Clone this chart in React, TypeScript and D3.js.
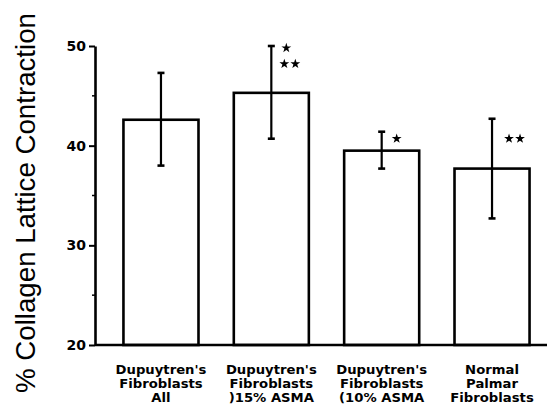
import { useEffect, useRef } from 'react';
import * as d3 from 'd3';

// groups shown along the x axis, one label line per entry
const categories = [
  ["Dupuytren's", 'Fibroblasts', 'All'],
  ["Dupuytren's", 'Fibroblasts', ')15% ASMA'],
  ["Dupuytren's", 'Fibroblasts', '(10% ASMA'],
  ['Normal', 'Palmar', 'Fibroblasts'],
];
const means = [42.6, 45.3, 39.5, 37.7];
const errHigh = [47.3, 50.0, 41.4, 42.7];
const errLow = [38.0, 40.7, 37.7, 32.7];
const yTicks = [20, 30, 40, 50];
const yMinorTicks = [25, 35, 45];
// significance marks: bar index, number of stars, level (data units)
const marks = [
  { bar: 1, stars: 1, level: 49.8 },
  { bar: 1, stars: 2, level: 48.2 },
  { bar: 2, stars: 1, level: 40.7 },
  { bar: 3, stars: 2, level: 40.7 },
];
const yTitle = '% Collagen Lattice Contraction';

const W = 547;
const H = 407;

export default function App() {
  const svgRef = useRef<SVGSVGElement>(null);

  useEffect(() => {
    if (!svgRef.current) return;
    const svg = d3.select(svgRef.current);
    svg.selectAll('*').remove();

    const left = 95;
    const right = 547;
    const top = 46;
    const bottom = 345;

    const y = d3.scaleLinear().domain([20, 50]).range([bottom, top]);
    const x = d3
      .scaleBand<number>()
      .domain(d3.range(categories.length))
      .range([108, 545])
      .paddingInner(0.32)
      .paddingOuter(0.14);

    const g = svg.append('g');

    // bars
    g.selectAll('rect.bar')
      .data(means)
      .join('rect')
      .attr('class', 'bar')
      .attr('x', (_, i) => x(i)!)
      .attr('y', (d) => y(d))
      .attr('width', x.bandwidth())
      .attr('height', (d) => bottom - y(d))
      .attr('fill', 'white')
      .attr('stroke', '#000')
      .attr('stroke-width', 2.6);

    // error bars
    const cx = (i: number) => x(i)! + x.bandwidth() / 2;
    const eb = g
      .selectAll('g.err')
      .data(means)
      .join('g')
      .attr('class', 'err')
      .attr('stroke', '#000');
    eb.append('line')
      .attr('x1', (_, i) => cx(i))
      .attr('x2', (_, i) => cx(i))
      .attr('y1', (_, i) => y(errHigh[i]))
      .attr('y2', (_, i) => y(errLow[i]))
      .attr('stroke-width', 2.2);
    [errHigh, errLow].forEach((arr) => {
      eb.append('line')
        .attr('x1', (_, i) => cx(i) - 3.5)
        .attr('x2', (_, i) => cx(i) + 3.5)
        .attr('y1', (_, i) => y(arr[i]))
        .attr('y2', (_, i) => y(arr[i]))
        .attr('stroke-width', 2.6);
    });

    // stars
    const star = d3.symbol(d3.symbolStar, 30);
    marks.forEach((m) => {
      const x0 = cx(m.bar) + (m.stars === 1 ? 15 : 13) + (m.bar === 3 ? 4 : 0);
      for (let k = 0; k < m.stars; k++) {
        g.append('path')
          .attr('d', star()!)
          .attr('transform', `translate(${x0 + k * 11},${y(m.level)})`)
          .attr('fill', '#000');
      }
    });

    // x axis baseline
    g.append('line')
      .attr('x1', left)
      .attr('x2', right)
      .attr('y1', bottom)
      .attr('y2', bottom)
      .attr('stroke', '#000')
      .attr('stroke-width', 2.6);

    // y axis
    const yAxis = g
      .append('g')
      .attr('transform', `translate(${left},0)`)
      .call(
        d3
          .axisLeft(y)
          .tickValues(yTicks)
          .tickSize(6)
          .tickSizeOuter(0)
          .tickPadding(3)
          .tickFormat(d3.format('d'))
      );
    yAxis.select('.domain').attr('stroke-width', 2.6);
    yAxis.selectAll('line').attr('stroke-width', 2);
    yAxis
      .selectAll('text')
      .attr('font-family', '"DejaVu Sans", sans-serif')
      .attr('font-weight', 'bold')
      .attr('font-size', 14)
      .attr('fill', '#000');
    g.append('g')
      .attr('transform', `translate(${left},0)`)
      .selectAll('line')
      .data(yMinorTicks)
      .join('line')
      .attr('x1', -3)
      .attr('x2', 0)
      .attr('y1', (d) => y(d))
      .attr('y2', (d) => y(d))
      .attr('stroke', '#000')
      .attr('stroke-width', 1.5);

    // category labels
    categories.forEach((lines, i) => {
      const t = g
        .append('g')
        .attr('transform', `translate(${cx(i)},0) scale(1.12,1)`)
        .append('text')
        .attr('text-anchor', 'middle')
        .attr('font-family', '"DejaVu Sans", sans-serif')
        .attr('font-weight', 'bold')
        .attr('font-size', 11.8)
        .attr('fill', '#000');
      lines.forEach((s, k) => {
        t.append('tspan')
          .attr('x', 0)
          .attr('y', 374 + k * 14)
          .text(s);
      });
    });

    // y title
    g.append('text')
      .attr('transform', `translate(35,203) rotate(-90)`)
      .attr('text-anchor', 'middle')
      .attr('font-family', '"Liberation Sans", Arial, sans-serif')
      .attr('font-size', 27)
      .attr('textLength', 380)
      .attr('lengthAdjust', 'spacingAndGlyphs')
      .attr('fill', '#000')
      .text(yTitle);
  }, []);

  return (
    <div style={{ position: 'fixed', left: 0, top: 0, background: '#fff' }}>
      <svg ref={svgRef} width={W} height={H} style={{ display: 'block' }} />
    </div>
  );
}
